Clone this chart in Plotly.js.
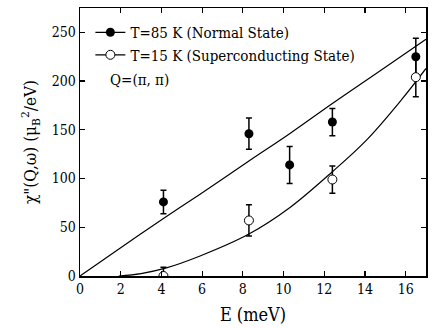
<!DOCTYPE html>
<html>
<head>
<meta charset="utf-8">
<script src="https://cdn.plot.ly/plotly-3.0.1.min.js"></script>
<style>
  body { margin: 0; background: #fff; }
  #chart { width: 436px; height: 328px; }
</style>
</head>
<body>
<div id="chart"></div>
<script>
// Measured points, T=85 K (normal state)
const eNormal = [4.1, 8.3, 10.3, 12.4, 16.5];
const chiNormal = [76, 146, 114, 158, 225];
const errNormal = [12, 16, 19, 14, 19];

// Measured points, T=15 K (superconducting state)
const eSuper = [4.1, 8.3, 12.4, 16.5];
const chiSuper = [0, 57, 99, 204];
const errSuper = [9, 16, 14, 20];

// Fit curves
const fitNormalE = [0, 2, 4.1, 5.9, 8.3, 10.3, 12.4, 14.5, 17];
const fitNormalChi = [0, 29, 59, 84, 118, 146, 177, 207, 243];
const fitSuperE = [1.9, 3, 4.2, 5.9, 8.3, 10.3, 12.4, 14.1, 15.8, 17];
const fitSuperChi = [0, 2.5, 8, 20.5, 43, 70, 107, 140, 181, 213];

const serif = "'DejaVu Serif Condensed', 'DejaVu Serif', serif";

const traces = [
    {
        x: fitNormalE, y: fitNormalChi,
        mode: 'lines', type: 'scatter',
        line: { color: '#000', width: 1.2, shape: 'spline' },
        showlegend: false, hoverinfo: 'none'
    },
    {
        x: fitSuperE, y: fitSuperChi,
        mode: 'lines', type: 'scatter',
        line: { color: '#000', width: 1.2, shape: 'spline' },
        showlegend: false, hoverinfo: 'none'
    },
    {
        x: eNormal, y: chiNormal,
        mode: 'markers', type: 'scatter',
        marker: { symbol: 'circle', size: 9, color: '#000' },
        error_y: { type: 'data', array: errNormal, color: '#000', thickness: 1.5, width: 3 },
        showlegend: false
    },
    {
        x: eSuper, y: chiSuper,
        mode: 'markers', type: 'scatter',
        marker: { symbol: 'circle', size: 9, color: '#fff', line: { color: '#000', width: 1 } },
        error_y: { type: 'data', array: errSuper, color: '#000', thickness: 1.5, width: 3 },
        showlegend: false
    },
    // legend entries (line with marker, as in the original key)
    {
        x: [null], y: [null],
        mode: 'lines+markers', type: 'scatter',
        name: 'T=85 K (Normal State)',
        line: { color: '#000', width: 1.2 },
        marker: { symbol: 'circle', size: 9, color: '#000' }
    },
    {
        x: [null], y: [null],
        mode: 'lines+markers', type: 'scatter',
        name: 'T=15 K (Superconducting State)',
        line: { color: '#000', width: 1.2 },
        marker: { symbol: 'circle', size: 9, color: '#fff', line: { color: '#000', width: 1 } }
    }
];

const axisCommon = {
    showline: true, linecolor: '#000', linewidth: 1.5,
    mirror: 'ticks', ticks: 'inside', ticklen: 5, tickwidth: 1.2, tickcolor: '#000',
    showgrid: false, zeroline: false,
    tickfont: { family: serif, size: 14, color: '#000' }
};

const layout = {
    width: 436, height: 328,
    margin: { l: 80, r: 10, t: 8, b: 52 },
    paper_bgcolor: '#fff', plot_bgcolor: '#fff',
    font: { family: serif, color: '#000', size: 14 },
    xaxis: Object.assign({}, axisCommon, {
        range: [0, 17], tickvals: [0, 2, 4, 6, 8, 10, 12, 14, 16],
        title: { text: 'E (meV)', font: { family: serif, size: 18 }, standoff: 12 }
    }),
    yaxis: Object.assign({}, axisCommon, {
        range: [0, 275], tickvals: [0, 50, 100, 150, 200, 250],
        title: { text: 'χ"(Q,ω) (μ<sub>B</sub><sup>2</sup>/eV)', font: { family: serif, size: 17 }, standoff: 10 }
    }),
    legend: {
        x: 0.03, y: 0.97, xanchor: 'left', yanchor: 'top',
        bgcolor: 'rgba(0,0,0,0)',
        font: { family: serif, size: 15, color: '#000' },
        tracegroupgap: 0
    },
    annotations: [
        {
            text: 'Q=(π, π)', xref: 'paper', yref: 'paper',
            x: 0.08, y: 0.73, xanchor: 'left', yanchor: 'middle',
            showarrow: false, font: { family: serif, size: 15, color: '#000' }
        }
    ],
    showlegend: true
};

Plotly.newPlot('chart', traces, layout, { displayModeBar: false, staticPlot: true });
</script>
</body>
</html>
